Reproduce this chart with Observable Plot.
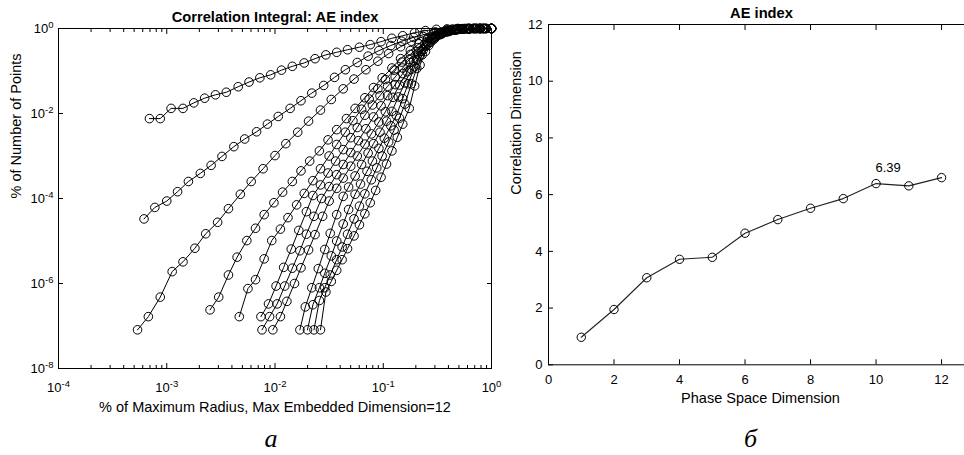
<!DOCTYPE html>
<html>
<head>
<meta charset="utf-8">
<script src="https://cdn.jsdelivr.net/npm/d3@7"></script>
<script src="https://cdn.jsdelivr.net/npm/@observablehq/plot@0.6"></script>
<style>
  html, body { margin: 0; padding: 0; background: #fff; overflow: hidden; }
  #wrap { position: relative; width: 964px; height: 455px; background: #fff; overflow: hidden; }
  #wrap svg { position: absolute; top: 0; }
</style>
</head>
<body>
<div id="wrap"></div>
<script>
// ---------- Panel a: correlation integral, [log10(r / rmax), log10(C)] per embedding dimension ----------
const curve1 = [[-3.16,-2.12],[-3.06,-2.12],[-2.96,-1.88],[-2.85,-1.88],[-2.75,-1.75],[-2.65,-1.64],[-2.55,-1.56],[-2.45,-1.50],[-2.34,-1.37],[-2.24,-1.26],[-2.14,-1.16],[-2.04,-1.09],[-1.94,-0.98],[-1.84,-0.89],[-1.73,-0.81],[-1.63,-0.71],[-1.53,-0.62],[-1.43,-0.56],[-1.33,-0.50],[-1.22,-0.44],[-1.12,-0.38],[-1.02,-0.31],[-0.92,-0.23],[-0.82,-0.17],[-0.71,-0.10],[-0.61,-0.05],[-0.51,-0.02],[-0.41,-0.01],[-0.31,0],[-0.20,0],[-0.10,0],[0,0]];
const curve2 = [[-3.21,-4.48],[-3.11,-4.21],[-3.00,-4.06],[-2.90,-3.84],[-2.80,-3.60],[-2.69,-3.41],[-2.59,-3.22],[-2.49,-3.01],[-2.38,-2.78],[-2.28,-2.60],[-2.17,-2.43],[-2.07,-2.25],[-1.97,-2.07],[-1.86,-1.88],[-1.76,-1.70],[-1.66,-1.52],[-1.55,-1.34],[-1.45,-1.15],[-1.35,-0.97],[-1.24,-0.80],[-1.14,-0.65],[-1.04,-0.52],[-0.93,-0.40],[-0.83,-0.30],[-0.72,-0.21],[-0.62,-0.14],[-0.52,-0.08],[-0.41,-0.04],[-0.31,-0.02],[-0.21,-0.01],[-0.10,0],[0,0]];
const curve3 = [[-3.27,-7.09],[-3.17,-6.78],[-3.06,-6.32],[-2.95,-5.72],[-2.85,-5.49],[-2.74,-5.17],[-2.64,-4.83],[-2.53,-4.56],[-2.43,-4.24],[-2.32,-3.90],[-2.22,-3.60],[-2.11,-3.30],[-2.00,-2.99],[-1.90,-2.71],[-1.79,-2.44],[-1.69,-2.18],[-1.58,-1.92],[-1.48,-1.67],[-1.37,-1.42],[-1.27,-1.19],[-1.16,-0.97],[-1.05,-0.77],[-0.95,-0.59],[-0.84,-0.43],[-0.74,-0.30],[-0.63,-0.19],[-0.53,-0.11],[-0.42,-0.06],[-0.32,-0.03],[-0.21,-0.01],[-0.11,0],[0,0]];
const curve4 = [[-2.60,-6.62],[-2.52,-6.32],[-2.43,-5.80],[-2.35,-5.38],[-2.26,-4.99],[-2.18,-4.70],[-2.10,-4.38],[-2.01,-4.10],[-1.93,-3.85],[-1.84,-3.60],[-1.76,-3.35],[-1.68,-3.12],[-1.59,-2.88],[-1.51,-2.62],[-1.43,-2.38],[-1.34,-2.12],[-1.26,-1.88],[-1.17,-1.63],[-1.09,-1.39],[-1.01,-1.16],[-0.92,-0.93],[-0.84,-0.71],[-0.75,-0.52],[-0.67,-0.36],[-0.59,-0.23],[-0.50,-0.13],[-0.42,-0.07],[-0.34,-0.03],[-0.25,-0.01],[-0.17,0],[-0.08,0],[0,0]];
const curve5 = [[-2.33,-6.78],[-2.25,-6.12],[-2.18,-5.91],[-2.10,-5.42],[-2.03,-4.99],[-1.95,-4.72],[-1.88,-4.45],[-1.80,-4.15],[-1.73,-3.88],[-1.65,-3.58],[-1.58,-3.30],[-1.50,-3.00],[-1.43,-2.73],[-1.35,-2.44],[-1.28,-2.17],[-1.20,-1.90],[-1.13,-1.66],[-1.05,-1.42],[-0.98,-1.20],[-0.90,-0.98],[-0.83,-0.79],[-0.75,-0.61],[-0.68,-0.45],[-0.60,-0.31],[-0.53,-0.20],[-0.45,-0.11],[-0.38,-0.05],[-0.30,-0.02],[-0.23,-0.01],[-0.15,0],[-0.08,0],[0,0]];
const curve6 = [[-2.13,-6.78],[-2.06,-6.48],[-1.99,-6.06],[-1.92,-5.62],[-1.85,-5.19],[-1.78,-4.75],[-1.71,-4.31],[-1.65,-3.93],[-1.58,-3.68],[-1.51,-3.40],[-1.44,-3.12],[-1.37,-2.85],[-1.30,-2.57],[-1.24,-2.33],[-1.17,-2.04],[-1.10,-1.80],[-1.03,-1.58],[-0.96,-1.36],[-0.89,-1.14],[-0.82,-0.93],[-0.76,-0.73],[-0.69,-0.54],[-0.62,-0.37],[-0.55,-0.23],[-0.48,-0.13],[-0.41,-0.07],[-0.34,-0.03],[-0.28,-0.01],[-0.21,0],[-0.14,0],[-0.07,0],[0,0]];
const curve7 = [[-2.12,-7.09],[-2.05,-6.78],[-1.98,-6.48],[-1.91,-6.06],[-1.84,-5.64],[-1.77,-5.23],[-1.71,-4.84],[-1.64,-4.42],[-1.57,-4.00],[-1.50,-3.72],[-1.43,-3.44],[-1.37,-3.20],[-1.30,-2.92],[-1.23,-2.64],[-1.16,-2.36],[-1.09,-2.08],[-1.02,-1.82],[-0.96,-1.58],[-0.89,-1.32],[-0.82,-1.06],[-0.75,-0.80],[-0.68,-0.60],[-0.61,-0.41],[-0.55,-0.26],[-0.48,-0.15],[-0.41,-0.08],[-0.34,-0.04],[-0.27,-0.015],[-0.20,-0.005],[-0.14,0],[-0.07,0],[0,0]];
const curve8 = [[-2.02,-7.09],[-1.95,-6.78],[-1.89,-6.42],[-1.82,-6.00],[-1.76,-5.63],[-1.69,-5.21],[-1.63,-4.85],[-1.56,-4.42],[-1.50,-4.06],[-1.43,-3.76],[-1.37,-3.52],[-1.30,-3.24],[-1.24,-3.00],[-1.17,-2.72],[-1.11,-2.48],[-1.04,-2.20],[-0.98,-1.96],[-0.91,-1.62],[-0.85,-1.33],[-0.78,-1.02],[-0.72,-0.76],[-0.65,-0.54],[-0.59,-0.36],[-0.52,-0.22],[-0.46,-0.13],[-0.39,-0.07],[-0.33,-0.035],[-0.26,-0.015],[-0.20,-0.005],[-0.13,0],[-0.07,0],[0,0]];
const curve9 = [[-1.77,-7.09],[-1.72,-6.55],[-1.66,-6.10],[-1.60,-5.65],[-1.54,-5.20],[-1.49,-4.82],[-1.43,-4.38],[-1.37,-3.95],[-1.32,-3.73],[-1.26,-3.47],[-1.20,-3.20],[-1.14,-2.93],[-1.09,-2.71],[-1.03,-2.44],[-0.97,-2.18],[-0.92,-1.95],[-0.86,-1.61],[-0.80,-1.28],[-0.74,-0.96],[-0.69,-0.74],[-0.63,-0.50],[-0.57,-0.32],[-0.52,-0.20],[-0.46,-0.11],[-0.40,-0.06],[-0.34,-0.03],[-0.29,-0.01],[-0.23,0],[-0.17,0],[-0.11,0],[-0.06,0],[0,0]];
const curve10 = [[-1.70,-7.09],[-1.65,-6.50],[-1.59,-6.10],[-1.54,-5.76],[-1.48,-5.35],[-1.43,-5.00],[-1.37,-4.60],[-1.32,-4.26],[-1.26,-3.90],[-1.21,-3.66],[-1.15,-3.36],[-1.10,-3.12],[-1.04,-2.82],[-0.99,-2.58],[-0.93,-2.29],[-0.88,-2.05],[-0.82,-1.65],[-0.77,-1.30],[-0.71,-0.90],[-0.66,-0.64],[-0.60,-0.40],[-0.55,-0.25],[-0.49,-0.14],[-0.44,-0.08],[-0.38,-0.04],[-0.33,-0.02],[-0.27,-0.005],[-0.22,0],[-0.16,0],[-0.11,0],[-0.05,0],[0,0]];
const curve11 = [[-1.64,-7.09],[-1.59,-6.40],[-1.54,-6.10],[-1.49,-5.80],[-1.43,-5.44],[-1.38,-5.14],[-1.33,-4.84],[-1.27,-4.48],[-1.22,-4.18],[-1.17,-3.89],[-1.11,-3.56],[-1.06,-3.28],[-1.01,-3.00],[-0.95,-2.67],[-0.90,-2.39],[-0.85,-2.11],[-0.80,-1.78],[-0.74,-1.30],[-0.69,-0.94],[-0.64,-0.62],[-0.58,-0.40],[-0.53,-0.25],[-0.48,-0.14],[-0.42,-0.075],[-0.37,-0.035],[-0.32,-0.015],[-0.27,-0.005],[-0.21,0],[-0.16,0],[-0.11,0],[-0.05,0],[0,0]];
const curve12 = [[-1.58,-7.09],[-1.53,-6.20],[-1.48,-5.95],[-1.43,-5.69],[-1.38,-5.44],[-1.33,-5.18],[-1.27,-4.88],[-1.22,-4.62],[-1.17,-4.36],[-1.12,-4.10],[-1.07,-3.81],[-1.02,-3.50],[-0.97,-3.19],[-0.92,-2.88],[-0.87,-2.56],[-0.82,-2.25],[-0.76,-1.88],[-0.71,-1.35],[-0.66,-0.86],[-0.61,-0.54],[-0.56,-0.32],[-0.51,-0.17],[-0.46,-0.08],[-0.41,-0.035],[-0.36,-0.012],[-0.31,-0.004],[-0.25,0],[-0.20,0],[-0.15,0],[-0.10,0],[-0.05,0],[0,0]];
const curves = [curve1, curve2, curve3, curve4, curve5, curve6, curve7, curve8, curve9, curve10, curve11, curve12];

const leftXTicks = [1e-4, 1e-3, 1e-2, 1e-1, 1];
const leftYTicks = [1e-8, 1e-6, 1e-4, 1e-2, 1];
const leftTitle = "Correlation Integral: AE index";
const leftXLabel = "% of Maximum Radius, Max Embedded Dimension=12";
const leftYLabel = "% of Number of Points";
const leftTag = "а";

// ---------- Panel б: correlation dimension vs phase space dimension ----------
const phaseDims = [1, 2, 3, 4, 5, 6, 7, 8, 9, 10, 11, 12];
const corrDims = [0.97, 1.95, 3.07, 3.72, 3.79, 4.64, 5.12, 5.52, 5.86, 6.39, 6.31, 6.60];
const annotatedIndex = 9;
const rightXTicks = [0, 2, 4, 6, 8, 10, 12];
const rightYTicks = [0, 2, 4, 6, 8, 10, 12];
const rightTitle = "AE index";
const rightXLabel = "Phase Space Dimension";
const rightYLabel = "Correlation Dimension";
const rightTag = "б";

const FONT = '"Liberation Sans", Arial, Helvetica, sans-serif';
const SERIF = '"Liberation Serif", "Times New Roman", serif';
const TICK_FONT = 13;
const pow10 = d => "10^" + Math.round(Math.log10(d));
const blank = () => "";
const leftXMinor = [];
for (let e = -4; e < 0; e++) for (let k = 2; k <= 9; k++) leftXMinor.push(k * Math.pow(10, e));

const leftRows = curves.flatMap((pts, i) => pts.map(([lr, lc]) => ({dim: i + 1, r: Math.pow(10, lr), c: Math.pow(10, lc)})));

const left = Plot.plot({
  width: 500, height: 455,
  marginLeft: 58, marginRight: 9, marginTop: 28, marginBottom: 87,
  style: {fontFamily: FONT, fontSize: "13px", background: "transparent", overflow: "visible", color: "#000"},
  x: {type: "log", domain: [1e-4, 1]},
  y: {type: "log", domain: [1e-8, 1]},
  marks: [
    Plot.frame({stroke: "#000", strokeWidth: 1}),
    Plot.axisX({anchor: "bottom", ticks: leftXTicks, tickSize: -5, tickPadding: 19, tickFormat: pow10, label: null}),
    Plot.axisX({anchor: "top", ticks: leftXTicks, tickSize: -5, tickFormat: blank, label: null}),
    Plot.axisX({anchor: "bottom", ticks: leftXMinor, tickSize: -3, tickFormat: blank, label: null}),
    Plot.axisX({anchor: "top", ticks: leftXMinor, tickSize: -3, tickFormat: blank, label: null}),
    Plot.axisY({anchor: "left", ticks: leftYTicks, tickSize: -5, tickPadding: 10, tickFormat: pow10, label: null}),
    Plot.axisY({anchor: "right", ticks: leftYTicks, tickSize: -5, tickFormat: blank, label: null}),
    Plot.line(leftRows, {x: "r", y: "c", z: "dim", stroke: "#000", strokeWidth: 1}),
    Plot.dot(leftRows, {x: "r", y: "c", r: 4.3, stroke: "#000", strokeWidth: 1, fill: "none"}),
    Plot.text([leftTitle], {text: d => d, frameAnchor: "top", dy: -11, fontWeight: "bold", fontSize: 14.7, lineAnchor: "middle"}),
    Plot.text([leftXLabel], {text: d => d, frameAnchor: "bottom", dy: 39, fontSize: 14.5, lineAnchor: "middle"}),
    Plot.text([leftYLabel], {text: d => d, frameAnchor: "left", dx: -42, rotate: -90, fontSize: 14.5, lineAnchor: "middle"}),
    Plot.text([leftTag], {text: d => d, frameAnchor: "bottom", dx: -4, dy: 70, fontSize: 26, fontStyle: "italic", fontFamily: SERIF, lineAnchor: "middle"})
  ]
});

const rightRows = phaseDims.map((d, i) => ({dim: d, cd: corrDims[i]}));

const right = Plot.plot({
  width: 464, height: 455,
  marginLeft: 48, marginRight: 0, marginTop: 24, marginBottom: 90.7,
  style: {fontFamily: FONT, fontSize: "13px", background: "transparent", overflow: "visible", color: "#000"},
  x: {domain: [0, 12.7]},
  y: {domain: [0, 12]},
  marks: [
    Plot.ruleY([0, 12], {stroke: "#000", strokeWidth: 1}),
    Plot.ruleX([0], {stroke: "#000", strokeWidth: 1}),
    Plot.axisX({anchor: "bottom", ticks: rightXTicks, tickSize: -5, tickPadding: 15, label: null}),
    Plot.axisX({anchor: "top", ticks: rightXTicks, tickSize: -5, tickFormat: blank, label: null}),
    Plot.axisY({anchor: "left", ticks: rightYTicks, tickSize: -5, tickPadding: 11, label: null}),
    Plot.line(rightRows, {x: "dim", y: "cd", stroke: "#222", strokeWidth: 1.1}),
    Plot.dot(rightRows, {x: "dim", y: "cd", r: 4.2, stroke: "#000", strokeWidth: 1, fill: "none"}),
    Plot.text([rightRows[annotatedIndex]], {x: "dim", y: "cd", text: d => d.cd.toFixed(2), dx: 12, dy: -16, fontSize: 13}),
    Plot.text([rightTitle], {text: d => d, frameAnchor: "top", dx: 5, dy: -11, fontWeight: "bold", fontSize: 14.7, lineAnchor: "middle"}),
    Plot.text([rightXLabel], {text: d => d, frameAnchor: "bottom", dx: 4, dy: 34, fontSize: 14.5, lineAnchor: "middle"}),
    Plot.text([rightYLabel], {text: d => d, frameAnchor: "left", dx: -32, rotate: -90, fontSize: 14.5, lineAnchor: "middle"}),
    Plot.text([rightTag], {text: d => d, frameAnchor: "bottom", dx: -6, dy: 74, fontSize: 26, fontStyle: "italic", fontFamily: SERIF, lineAnchor: "middle"})
  ]
});

// tick label size and superscript exponents on the log tick labels
function styleTicks(svg) {
  d3.select(svg).selectAll('g[aria-label$="tick label"]').attr("font-size", TICK_FONT).style("font-size", TICK_FONT + "px");
  d3.select(svg).selectAll("text").each(function () {
    const m = /^10\^(-?\d+)$/.exec(this.textContent);
    if (!m) return;
    const t = d3.select(this);
    t.text(null);
    t.append("tspan").text("10");
    t.append("tspan").attr("dy", "-5").attr("font-size", "9.5px").style("font-size", "9.5px").text(m[1]);
  });
}
styleTicks(left);
styleTicks(right);

left.style.left = "0px";
right.style.left = "500px";
const wrap = document.getElementById("wrap");
wrap.appendChild(left);
wrap.appendChild(right);
</script>
</body>
</html>
